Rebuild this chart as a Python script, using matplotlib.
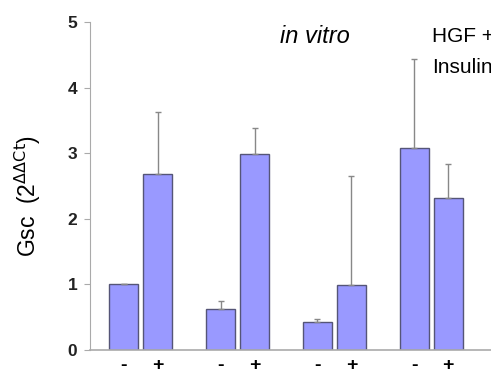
import matplotlib.pyplot as plt
import numpy as np

plt.rcParams['font.family'] = ['Liberation Sans', 'DejaVu Sans']

# data
groups = np.arange(4)
minus_vals = [1.0, 0.63, 0.43, 3.08]
plus_vals = [2.69, 2.99, 0.99, 2.32]
minus_err = [0.01, 0.12, 0.04, 1.35]
plus_err = [0.94, 0.40, 1.66, 0.51]

bar_color = '#9999ff'
edge_color = '#555577'
err_color = '#888888'

fig = plt.figure(figsize=(4.91, 3.76), dpi=100)
ax = fig.add_axes([90 / 491, 26 / 376, 1 - 90 / 491, 328 / 376])

w = 0.30
off = 0.176
ax.bar(groups - off, minus_vals, w, color=bar_color, edgecolor=edge_color, linewidth=1)
ax.bar(groups + off, plus_vals, w, color=bar_color, edgecolor=edge_color, linewidth=1)
ax.errorbar(groups - off, minus_vals, yerr=[np.zeros(4), minus_err], fmt='none',
            ecolor=err_color, elinewidth=1, capsize=2.5)
ax.errorbar(groups + off, plus_vals, yerr=[np.zeros(4), plus_err], fmt='none',
            ecolor=err_color, elinewidth=1, capsize=2.5)

ax.set_xlim(-0.527, 3.62)
ax.set_ylim(0, 5)
ax.set_yticks([0, 1, 2, 3, 4, 5])
ax.tick_params(axis='y', labelsize=12.5, length=4, width=0.8, pad=5,
               color='#aaaaaa', labelcolor='#222222')
for lbl in ax.get_yticklabels():
    lbl.set_fontweight('bold')

xt = np.concatenate([groups - off, groups + off])
xl = ['-'] * 4 + ['+'] * 4
ax.set_xticks(xt)
ax.set_xticklabels(xl, fontsize=14, fontweight='bold')
ax.tick_params(axis='x', length=0, pad=5)

for s in ['top', 'right']:
    ax.spines[s].set_visible(False)
ax.spines['left'].set_color('#aaaaaa')
ax.spines['bottom'].set_color('#aaaaaa')
ax.spines['bottom'].set_linewidth(1.2)

ax.set_ylabel('Gsc  (2$^{\\mathrm{\\Delta\\Delta Ct}}$)', fontsize=16.5)
ax.yaxis.set_label_coords(-0.118, 0.47)

fig.text(280 / 491, 1 - 43 / 376, 'in vitro', fontsize=17, fontstyle='italic',
         va='baseline', ha='left')
fig.text(432 / 491, 1 - 42 / 376, 'HGF +', fontsize=15, va='baseline', ha='left')
fig.text(432 / 491, 1 - 73 / 376, 'Insulin', fontsize=15, va='baseline', ha='left')

fig.savefig('out.png', dpi=100)
